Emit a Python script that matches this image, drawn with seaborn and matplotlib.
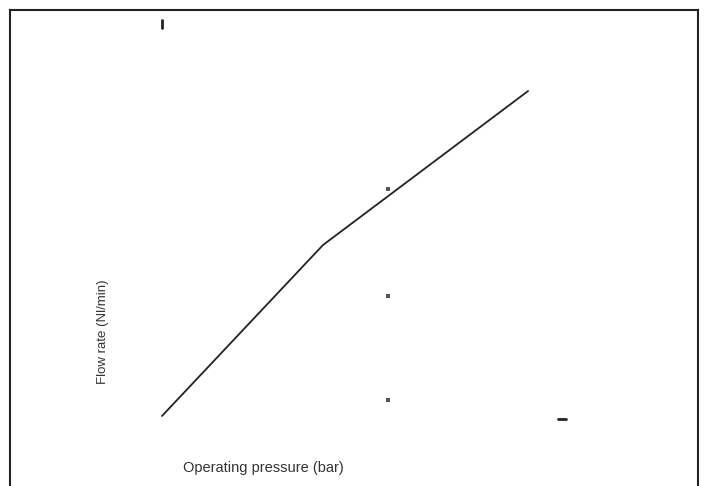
import matplotlib
matplotlib.use("Agg")
import matplotlib.pyplot as plt
import seaborn as sns
import pandas as pd

# --- data ---
pressure = [0.0, 2.85, 6.48]          # bar
flow = [0.0, 171.0, 325.0]            # Nl/min (arbitrary scale)

marker_x = [4.0, 4.0, 4.0]
marker_y = [227.0, 120.0, 16.0]

tick_x = [0.0, 0.0]
tick_y = [388.0, 396.0]

dash_x = [7.01, 7.15]
dash_y = [-3.0, -3.0]

x_label = "Operating pressure (bar)"
y_label = "Flow rate (Nl/min)"

sns.set_style("white")
plt.rcParams['font.family'] = ['Liberation Sans Narrow', 'Liberation Sans', 'DejaVu Sans']

fig = plt.figure(figsize=(7.08, 4.86), dpi=100)
ax = fig.add_axes([10 / 708, 0, 688 / 708, 476 / 486])

df = pd.DataFrame({"pressure": pressure, "flow": flow})
sns.lineplot(data=df, x="pressure", y="flow", ax=ax, color="#222222", linewidth=1.3)

ax.scatter(marker_x, marker_y, s=6, color="#555555", marker="s", linewidths=0)
ax.plot(tick_x, tick_y, color="#222222", linewidth=2)
ax.plot(dash_x, dash_y, color="#222222", linewidth=2)

ax.set_xlim(-2.69, 9.487)
ax.set_ylim(-70, 406)
ax.set_xticks([])
ax.set_yticks([])
ax.set_xlabel("")
ax.set_ylabel("")

for side in ["left", "top", "right"]:
    ax.spines[side].set_color("#222222")
    ax.spines[side].set_linewidth(1.5)
ax.spines["bottom"].set_visible(False)

fig.text(263 / 708, 1 - 468 / 486, x_label, ha="center", va="center",
         fontsize=10.5, color="#333333")
fig.text(103 / 708, 1 - 332 / 486, y_label, ha="center", va="center",
         rotation=90, fontsize=9.5, color="#333333")

fig.savefig("out.png", dpi=100)
